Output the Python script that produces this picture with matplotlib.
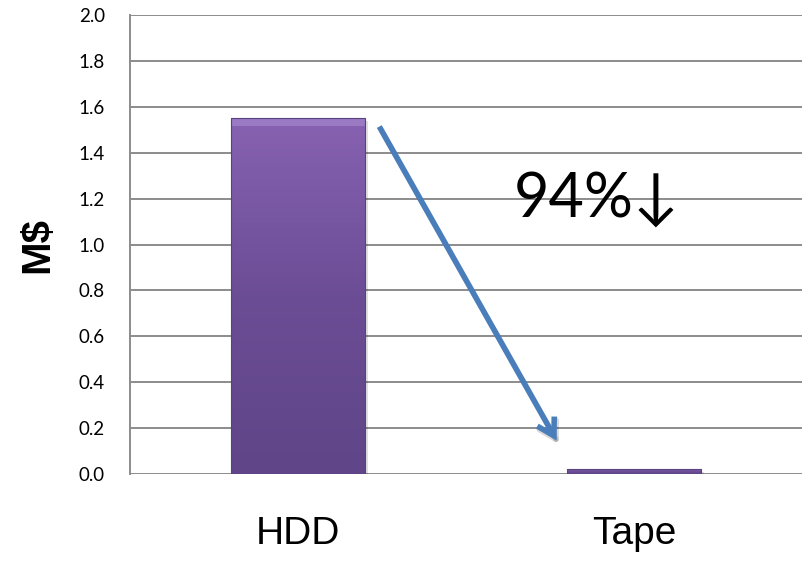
import numpy as np
import matplotlib.pyplot as plt
from matplotlib.patches import Rectangle, FancyArrowPatch
import matplotlib.colors as mcolors

categories = ["HDD", "Tape"]
costs = [1.55, 0.02]          # M$
y_ticks = [0.0, 0.2, 0.4, 0.6, 0.8, 1.0, 1.2, 1.4, 1.6, 1.8, 2.0]
reduction_label = "94%↓"

fig = plt.figure(figsize=(8.02, 5.61), dpi=100)
ax = fig.add_axes([0.162, 0.155, 0.838, 0.818])

x = np.arange(len(categories))
width = 0.4

# purple gradient fill: dark at the base, lighter towards the top
cmap = mcolors.LinearSegmentedColormap.from_list("bar", ["#604588", "#6b4d95", "#8762b2"])
for xi, val in zip(x, costs):
    left = xi - width / 2
    # soft drop shadow
    ax.add_patch(Rectangle((left + 0.008, -0.012), width, val, color="#000000",
                           alpha=0.12, lw=0, zorder=2))
    rect = Rectangle((left, 0), width, val, facecolor="none", edgecolor="#5a4180",
                     lw=0.8, zorder=4)
    ax.add_patch(rect)
    grad = np.linspace(0, 1, 256).reshape(-1, 1)
    im = ax.imshow(grad, cmap=cmap, aspect="auto", extent=[left, left + width, 0, val],
                   origin="lower", zorder=3, interpolation="bilinear")
    im.set_clip_path(rect)
    # bevel highlight along the top edge
    if val > 0.1:
        ax.add_patch(Rectangle((left, val - 0.035), width, 0.035, color="#a386cc",
                               alpha=0.7, lw=0, zorder=3.5))

ax.set_xlim(-0.5, 1.5)
ax.set_ylim(0, 2.0)
ax.set_yticks(y_ticks)
ax.set_yticklabels([f"{v:.1f}" for v in y_ticks], family=["Lato", "DejaVu Sans"], fontsize=13.5)
ax.set_xticks(x)
ax.set_xticklabels(categories, family="Liberation Sans", fontsize=28)
ax.tick_params(axis="y", length=0, pad=18)
ax.tick_params(axis="x", length=0, pad=30)

ax.yaxis.grid(True, color="#8c8c8c", lw=1.4)
ax.set_axisbelow(True)
for side in ["top", "right", "bottom"]:
    ax.spines[side].set_visible(False)
ax.spines["left"].set_color("#8c8c8c")
ax.spines["left"].set_linewidth(1.4)

ax.set_ylabel("M$", family="Liberation Sans", fontweight="bold", fontsize=29, labelpad=16)

# arrow from the HDD bar down to the tape bar
start = (0.238, 1.525)
end = (0.774, 0.135)
style = "->,head_length=12,head_width=7"
shadow = FancyArrowPatch((start[0] + 0.006, start[1] - 0.015), (end[0] + 0.006, end[1] - 0.015),
                         arrowstyle=style, color="#000000", alpha=0.15, lw=4, zorder=5)
ax.add_patch(shadow)
arrow = FancyArrowPatch(start, end, arrowstyle=style, color="#4a7ebb", lw=4, zorder=6,
                        joinstyle="miter", capstyle="butt")
ax.add_patch(arrow)

ax.text(0.641, 1.2, reduction_label, family=["Lato", "DejaVu Sans"], fontsize=44,
        ha="left", va="center", zorder=7)

fig.savefig("out.png", dpi=100)
